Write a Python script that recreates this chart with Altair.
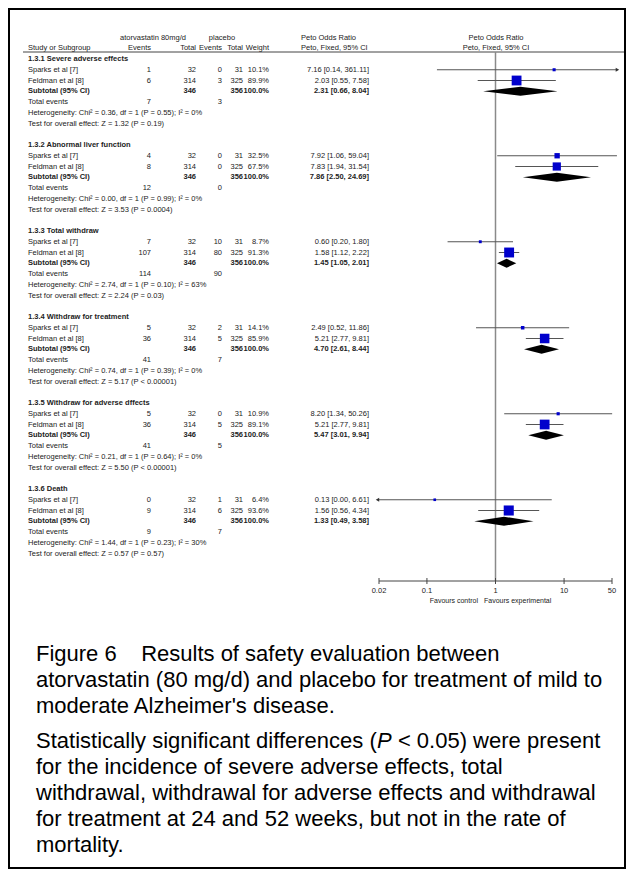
import altair as alt
import pandas as pd

# ---------------- data ----------------
sections = ["1.3.1 Severe adverse effects", "1.3.2 Abnormal liver function", "1.3.3 Total withdraw",
            "1.3.4 Withdraw for treatment", "1.3.5 Withdraw for adverse dffects", "1.3.6 Death"]
studies = ["Sparks et al [7]", "Feldman et al [8]"]
exp_events = [[1, 6], [4, 8], [7, 107], [5, 36], [5, 36], [0, 9]]
exp_totals = [32, 314]
ctl_events = [[0, 3], [0, 0], [10, 80], [2, 5], [0, 5], [1, 6]]
ctl_totals = [31, 325]
weights = [[10.1, 89.9], [32.5, 67.5], [8.7, 91.3], [14.1, 85.9], [10.9, 89.1], [6.4, 93.6]]
study_or = [[7.16, 2.03], [7.92, 7.83], [0.60, 1.58], [2.49, 5.21], [8.20, 5.21], [0.13, 1.56]]
study_lo = [[0.14, 0.55], [1.06, 1.94], [0.20, 1.12], [0.52, 2.77], [1.34, 2.77], [0.00, 0.56]]
study_hi = [[361.11, 7.58], [59.04, 31.54], [1.80, 2.22], [11.86, 9.81], [50.26, 9.81], [6.61, 4.34]]
sub_or = [2.31, 7.86, 1.45, 4.70, 5.47, 1.33]
sub_lo = [0.66, 2.50, 1.05, 2.61, 3.01, 0.49]
sub_hi = [8.04, 24.69, 2.01, 8.44, 9.94, 3.58]
tot_exp_events = [7, 12, 114, 41, 41, 9]
tot_ctl_events = [3, 0, 90, 7, 5, 7]
het_chi2 = ["0.36", "0.00", "2.74", "0.74", "0.21", "1.44"]
het_p = ["0.55", "0.99", "0.10", "0.39", "0.64", "0.23"]
het_i2 = ["0", "0", "63", "0", "0", "30"]
z_vals = ["1.32", "3.53", "2.24", "5.17", "5.50", "0.57"]
z_p = ["P = 0.19", "P = 0.0004", "P = 0.03", "P < 0.00001", "P < 0.00001", "P = 0.57"]
axis_ticks = [0.02, 0.1, 1, 10, 50]
axis_labels = ["0.02", "0.1", "1", "10", "50"]

caption_par1 = ["Figure 6\u00a0\u00a0\u00a0 Results of safety evaluation between",
                "atorvastatin (80 mg/d) and placebo for treatment of mild to",
                "moderate Alzheimer's disease."]
caption_par2_first = ["Statistically significant differences (", "P", "< 0.05) were present"]
caption_par2_rest = ["for the incidence of severe adverse effects, total",
                     "withdrawal, withdrawal for adverse effects and withdrawal",
                     "for treatment at 24 and 52 weeks, but not in the rate of",
                     "mortality."]

# ---------------- tables ----------------
rows = []
for g in range(6):
    b = g * 8
    rows.append(dict(r=b, label=sections[g], bold=True, ee="", et="", ce="", ct="", w="", ci=""))
    for s in range(2):
        rows.append(dict(r=b + 1 + s, label=studies[s], bold=False,
                         ee=str(exp_events[g][s]), et=str(exp_totals[s]),
                         ce=str(ctl_events[g][s]), ct=str(ctl_totals[s]),
                         w=f"{weights[g][s]:.1f}%",
                         ci=f"{study_or[g][s]:.2f} [{study_lo[g][s]:.2f}, {study_hi[g][s]:.2f}]"))
    rows.append(dict(r=b + 3, label="Subtotal (95% CI)", bold=True, ee="", et=str(sum(exp_totals)),
                     ce="", ct=str(sum(ctl_totals)), w="100.0%",
                     ci=f"{sub_or[g]:.2f} [{sub_lo[g]:.2f}, {sub_hi[g]:.2f}]"))
    rows.append(dict(r=b + 4, label="Total events", bold=False, ee=str(tot_exp_events[g]), et="",
                     ce=str(tot_ctl_events[g]), ct="", w="", ci=""))
    rows.append(dict(r=b + 5, label=f"Heterogeneity: Chi\u00b2 = {het_chi2[g]}, df = 1 (P = {het_p[g]}); I\u00b2 = {het_i2[g]}%",
                     bold=False, ee="", et="", ce="", ct="", w="", ci=""))
    rows.append(dict(r=b + 6, label=f"Test for overall effect: Z = {z_vals[g]} ({z_p[g]})",
                     bold=False, ee="", et="", ce="", ct="", w="", ci=""))
tbl = pd.DataFrame(rows)

fr = []
for g in range(6):
    for s in range(2):
        fr.append(dict(r=g * 8 + 1 + s, est=study_or[g][s], lo=study_lo[g][s],
                       hi=study_hi[g][s], w=weights[g][s]))
forest = pd.DataFrame(fr)
SHOW_MIN, SHOW_MAX = 0.019, 60
forest["lo_d"] = forest["lo"].clip(lower=SHOW_MIN)
forest["hi_d"] = forest["hi"].clip(upper=SHOW_MAX)
arrows_r = forest[forest["hi"] > SHOW_MAX]
arrows_l = forest[forest["lo"] < SHOW_MIN]

dm = []
for g in range(6):
    r = g * 8 + 3
    dm += [dict(g=g, x=sub_lo[g], y=r, y2=r),
           dict(g=g, x=sub_or[g], y=r - 0.42, y2=r + 0.42),
           dict(g=g, x=sub_hi[g], y=r, y2=r)]
diam = pd.DataFrame(dm)

ticks = pd.DataFrame({"t": axis_ticks, "lab": axis_labels})
one = pd.DataFrame({"k": [0]})

# ---------------- scales / styles ----------------
FONT = "Liberation Sans"
TXT = "#222222"
TS = 7.5
ys = alt.Scale(domain=[0, 46], range=[51, 51 + 46 * 10.75], nice=False, zero=False)
xs = alt.Scale(type="log", domain=[0.02, 50], range=[371, 604], nice=False)

layers = []

def col_layer(df, field, x, align, bold=False, size=TS):
    return alt.Chart(df).mark_text(align=align, baseline="middle", font=FONT, fontSize=size,
                                   fontWeight="bold" if bold else "normal", color=TXT).encode(
        y=alt.Y("r:Q", scale=ys, axis=None), x=alt.value(x), text=f"{field}:N")

normal = tbl[~tbl["bold"]]
boldr = tbl[tbl["bold"]]
cols = [("label", 20, "left"), ("ee", 143, "right"), ("et", 188, "right"), ("ce", 214, "right"),
        ("ct", 235, "right"), ("w", 261, "right"), ("ci", 361, "right")]
for f, x, a in cols:
    layers.append(col_layer(normal, f, x, a, False))
    layers.append(col_layer(boldr, f, x, a, True))

# headers
hdr1 = pd.DataFrame({"r": [-2], "a": ["atorvastatin 80mg/d"], "b": ["placebo"], "c": ["Peto Odds Ratio"]})
hdr2 = pd.DataFrame({"r": [-1], "a": ["Study or Subgroup"], "b": ["Events"], "c": ["Total"],
                     "d": ["Events"], "e": ["Total"], "f": ["Weight"], "g": ["Peto, Fixed, 95% CI"]})
layers += [col_layer(hdr1, "a", 145, "center"), col_layer(hdr1, "b", 214, "center"),
           col_layer(hdr1, "c", 293, "left"), col_layer(hdr1, "c", 488, "center"),
           col_layer(hdr2, "a", 20, "left"), col_layer(hdr2, "b", 143, "right"),
           col_layer(hdr2, "c", 188, "right"), col_layer(hdr2, "d", 214, "right"),
           col_layer(hdr2, "e", 235, "right"), col_layer(hdr2, "f", 261, "right"),
           col_layer(hdr2, "g", 293, "left"), col_layer(hdr2, "g", 488, "center")]

# header underline
layers.append(alt.Chart(one).mark_rule(color="#444", strokeWidth=1).encode(
    x=alt.value(15), x2=alt.value(617), y=alt.value(44)))

# null line
layers.append(alt.Chart(pd.DataFrame({"x": [1]})).mark_rule(color="#8a8a8a", strokeWidth=1.5).encode(
    x=alt.X("x:Q", scale=xs, axis=None), y=alt.value(44), y2=alt.value(573)))

# CI lines
layers.append(alt.Chart(forest).mark_rule(color="#555", strokeWidth=1).encode(
    x=alt.X("lo_d:Q", scale=xs, axis=None), x2="hi_d:Q", y=alt.Y("r:Q", scale=ys, axis=None)))
layers.append(alt.Chart(arrows_r).mark_point(shape="triangle-right", filled=True, size=16, color="#333", opacity=1).encode(
    x=alt.X("hi_d:Q", scale=xs, axis=None), y=alt.Y("r:Q", scale=ys, axis=None)))
layers.append(alt.Chart(arrows_l).mark_point(shape="triangle-left", filled=True, size=16, color="#333", opacity=1).encode(
    x=alt.X("lo_d:Q", scale=xs, axis=None), y=alt.Y("r:Q", scale=ys, axis=None)))

# squares
layers.append(alt.Chart(forest).mark_square(color="#0000CC", opacity=1).encode(
    x=alt.X("est:Q", scale=xs, axis=None), y=alt.Y("r:Q", scale=ys, axis=None),
    size=alt.Size("w:Q", scale=alt.Scale(type="pow", exponent=1.3, domain=[0, 100], range=[4, 110]), legend=None)))

# diamonds
layers.append(alt.Chart(diam).mark_area(color="black", orient="vertical", opacity=1).encode(
    x=alt.X("x:Q", scale=xs, axis=None), y=alt.Y("y:Q", scale=ys, axis=None, stack=None),
    y2="y2:Q", detail="g:N"))

# custom axis
layers.append(alt.Chart(one).mark_rule(color="#444", strokeWidth=1).encode(
    x=alt.X("a:Q", scale=xs, axis=None), x2="b:Q", y=alt.value(573)).transform_calculate(a="0.02", b="50"))
layers.append(alt.Chart(ticks).mark_rule(color="#444", strokeWidth=1).encode(
    x=alt.X("t:Q", scale=xs, axis=None), y=alt.value(570), y2=alt.value(576)))
layers.append(alt.Chart(ticks).mark_text(font=FONT, fontSize=7.5, color=TXT, baseline="middle").encode(
    x=alt.X("t:Q", scale=xs, axis=None), y=alt.value(583), text="lab:N"))
fav = pd.DataFrame({"a": ["Favours control"], "b": ["Favours experimental"]})
layers.append(alt.Chart(fav).mark_text(font=FONT, fontSize=7, color=TXT, align="right", baseline="middle").encode(
    x=alt.value(470), y=alt.value(593), text="a:N"))
layers.append(alt.Chart(fav).mark_text(font=FONT, fontSize=7, color=TXT, align="left", baseline="middle").encode(
    x=alt.value(476), y=alt.value(593), text="b:N"))

# caption
CAP = 22
cap_x = 28
base1 = [652.5, 678.5, 704.5]
for line, yb in zip(caption_par1, base1):
    layers.append(alt.Chart(pd.DataFrame({"t": [line]})).mark_text(
        font=FONT, fontSize=CAP, color="black", align="left", baseline="alphabetic").encode(
        x=alt.value(cap_x), y=alt.value(yb), text="t:N"))

W = {"S": 667, "t": 278, "a": 556, "i": 222, "s": 500, "c": 500, "l": 222, "y": 500, " ": 278,
     "g": 556, "n": 556, "f": 278, "d": 556, "e": 556, "r": 333, "(": 333, "P": 667}
def width(s):
    return sum(W.get(ch, 556) for ch in s) * CAP / 1000.0

p0, p1, p2 = caption_par2_first
x1 = cap_x + width(p0)
x2 = x1 + width(p1) + width(" ")
for txt_, xx, sty in [(p0, cap_x, "normal"), (p1, x1, "italic"), (p2, x2, "normal")]:
    layers.append(alt.Chart(pd.DataFrame({"t": [txt_]})).mark_text(
        font=FONT, fontSize=CAP, color="black", align="left", baseline="alphabetic", fontStyle=sty).encode(
        x=alt.value(xx), y=alt.value(739.5), text="t:N"))
for line, yb in zip(caption_par2_rest, [765.5, 791.5, 817.5, 843.5]):
    layers.append(alt.Chart(pd.DataFrame({"t": [line]})).mark_text(
        font=FONT, fontSize=CAP, color="black", align="left", baseline="alphabetic").encode(
        x=alt.value(cap_x), y=alt.value(yb), text="t:N"))

# frame
layers.append(alt.Chart(one).mark_rule(color="black", strokeWidth=2).encode(
    x=alt.value(0), x2=alt.value(618), y=alt.value(1)))
layers.append(alt.Chart(one).mark_rule(color="black", strokeWidth=2).encode(
    x=alt.value(1), y=alt.value(0), y2=alt.value(861)))
layers.append(alt.Chart(one).mark_rule(color="black", strokeWidth=2).encode(
    x=alt.value(617), y=alt.value(0), y2=alt.value(861)))
layers.append(alt.Chart(one).mark_rule(color="black", strokeWidth=2).encode(
    x=alt.value(0), x2=alt.value(618), y=alt.value(860)))

chart = alt.layer(*layers).properties(
    width=618, height=861, padding=0, autosize=alt.AutoSizeParams(type="none")
).configure_view(stroke=None)

chart.save("out.html", embed_options={"renderer": "svg", "actions": False})
